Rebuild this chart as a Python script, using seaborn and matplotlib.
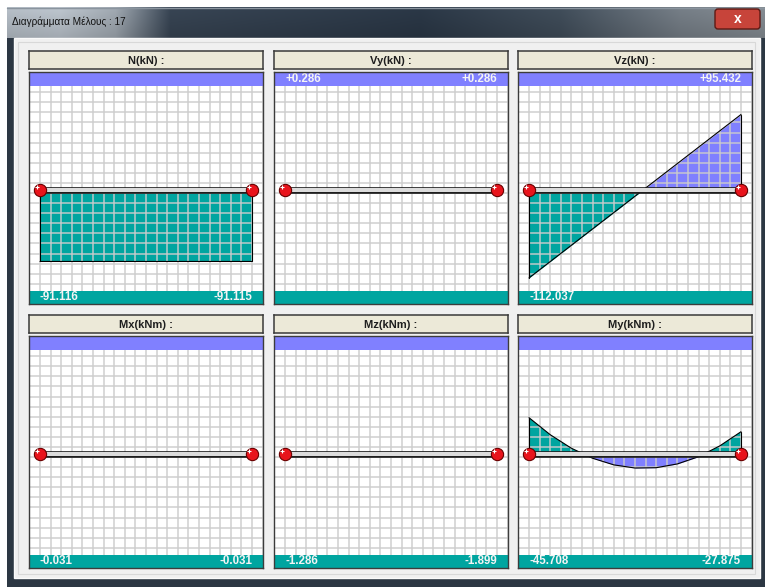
import numpy as np
import matplotlib
matplotlib.use("Agg")
import matplotlib.pyplot as plt
from matplotlib.patches import Rectangle, FancyBboxPatch
from matplotlib.transforms import ScaledTranslation, blended_transform_factory
import seaborn as sns

# ---- member diagram values (stations normalised along the member) ----
window_title = "Διαγράμματα Μέλους : 17"
titles = ["N(kN) :", "Vy(kN) :", "Vz(kN) :", "Mx(kNm) :", "Mz(kNm) :", "My(kNm) :"]
end_stations = [0.0, 1.0]
n_vals = [-91.116, -91.115]
vy_vals = [0.286, 0.286]
vz_vals = [-112.037, 95.432]
mx_vals = [-0.031, -0.031]
mz_vals = [-1.286, -1.899]
my_stations = [0.0, 0.1, 0.2, 0.3, 0.4, 0.5, 0.6, 0.7, 0.8, 0.9, 1.0]
my_vals = [-45.708, -24.1, -6.9, 5.8, 14.2, 18.2, 17.8, 13.0, 3.8, -9.9, -27.875]

panels = [
    (titles[0], end_stations, n_vals, False),
    (titles[1], end_stations, vy_vals, False),
    (titles[2], end_stations, vz_vals, False),
    (titles[3], end_stations, mx_vals, True),
    (titles[4], end_stations, mz_vals, True),
    (titles[5], my_stations, my_vals, True),
]

TEAL = "#00A5A0"
PURPLE = "#8080FF"
BEIGE = "#ECE9D8"

sns.set_style("white")
plt.rcParams["font.family"] = ["Liberation Sans", "DejaVu Sans"]

W, H = 765, 587
fig = plt.figure(figsize=(W / 100, H / 100), dpi=100)
fig.patch.set_facecolor("white")


def px_axes(x, y, w, h, **kw):
    return fig.add_axes([x / W, 1 - (y + h) / H, w / W, h / H], **kw)


# ---- window chrome ----
bg = px_axes(0, 0, W, H, zorder=-10)
bg.set_xlim(0, W)
bg.set_ylim(H, 0)
bg.axis("off")
bg.add_patch(Rectangle((7, 7), W - 7, H - 7, facecolor="#2C3743", edgecolor="none"))

stops_x = [7, 60, 115, 170, 420, 560, 680, 765]
stops_c = np.array([[170, 178, 186], [176, 184, 192], [150, 158, 166], [52, 64, 78],
                    [40, 52, 66], [60, 72, 84], [110, 118, 126], [125, 132, 138]]) / 255
xs = np.arange(7, W)
grad = np.stack([np.interp(xs, stops_x, stops_c[:, i]) for i in range(3)], axis=-1)
vshade = np.linspace(1.08, 0.92, 31)[:, None, None]
grad_img = np.clip(grad[None, :, :] * vshade, 0, 1)
bg.imshow(grad_img, extent=(7, W, 38, 7), aspect="auto", zorder=1)
bg.plot([7, W], [7.5, 7.5], color="#8A949E", lw=1, zorder=2)

bg.add_patch(Rectangle((14, 38), 746, 540, facecolor="#F0F0F0", edgecolor="#FAFAFA",
                       lw=1, zorder=2))
bg.add_patch(Rectangle((18, 42), 737, 532, facecolor="none", edgecolor="#D8D8D8",
                       lw=0.8, zorder=2))
bg.text(12, 22, window_title, fontsize=7.2, color="#111111", va="center", ha="left", zorder=3)
bg.add_patch(FancyBboxPatch((715, 9), 45, 20, boxstyle="round,pad=0,rounding_size=3",
                            facecolor="#C7443A", edgecolor="#5E1A14", lw=1, zorder=3))
bg.text(737.5, 19, "x", fontsize=10, fontweight="bold", color="white",
        ha="center", va="center", zorder=4)

# ---- diagram panels ----
col_x = [29, 274, 518]
hdr_y = [51, 315]
plot_y = [72, 336]
col_w, hdr_h, plot_h = 234, 18, 232
inset = 11
beam_px = col_w - 2 * inset
kn_per_px = 1.2
half = plot_h / 2 * kn_per_px
cell_px = 10.67
band_px = 13.5

for i, (title, st, vals, moment) in enumerate(panels):
    r, c = divmod(i, 3)
    x0 = col_x[c]

    # header strip
    hax = px_axes(x0, hdr_y[r], col_w, hdr_h)
    hax.set_facecolor(BEIGE)
    hax.set_xticks([])
    hax.set_yticks([])
    for s in hax.spines.values():
        s.set_color("#3A3A3A")
        s.set_linewidth(1.1)
    hax.text(0.5, 0.47, title, transform=hax.transAxes, ha="center", va="center",
             fontsize=8, fontweight="bold", color="#1E1E1E")

    # diagram area
    ax = px_axes(x0, plot_y[r], col_w, plot_h)
    ax.set_facecolor("white")
    ax.set_xlim(-inset / beam_px, 1 + inset / beam_px)
    if moment:
        ax.set_ylim(half, -half)
        sgn = 1
    else:
        ax.set_ylim(-half, half)
        sgn = -1

    x = np.asarray(st, dtype=float)
    v = np.asarray(vals, dtype=float)
    ax.fill_between(x, v, 0, where=v <= 0, interpolate=True, color=TEAL, lw=0, zorder=1)
    ax.fill_between(x, v, 0, where=v >= 0, interpolate=True, color=PURPLE, lw=0, zorder=1)
    sns.lineplot(x=x, y=v, ax=ax, color="black", lw=0.8, sort=False, legend=False, zorder=3)
    ax.plot([x[0], x[0]], [0, v[0]], color="black", lw=0.8, zorder=3)
    ax.plot([x[-1], x[-1]], [0, v[-1]], color="black", lw=0.8, zorder=3)
    ax.set_xlabel("")
    ax.set_ylabel("")

    # grid
    ax.set_xticks(np.arange(-1, 22) * 0.05)
    ax.set_yticks(sgn * (np.arange(-12, 12) + 1 / 3) * cell_px * kn_per_px)
    ax.set_axisbelow(False)
    ax.grid(True, color="#CCCCCC", lw=1.2, alpha=0.85)
    ax.tick_params(length=0, labelbottom=False, labelleft=False)
    ax.set_xlim(-inset / beam_px, 1 + inset / beam_px)
    for s in ax.spines.values():
        s.set_color("#3C3C3C")
        s.set_linewidth(1.0)
        s.set_zorder(8)

    # member line and end nodes
    ax.plot([x[0], x[-1]], [0, 0], color="#1C1C1C", lw=4.8, solid_capstyle="butt", zorder=5)
    ax.plot([x[0], x[-1]], [0, 0], color="#DCDCDC", lw=2.9, solid_capstyle="butt", zorder=5.1)
    ax.scatter([x[0], x[-1]], [0, 0], s=78, facecolor="#E8141C", edgecolor="#6A0000",
               lw=0.8, zorder=6)
    hl = ax.transData + ScaledTranslation(-2 / 72, 2 / 72, fig.dpi_scale_trans)
    ax.scatter([x[0], x[-1]], [0, 0], s=9, marker="+", color="white", lw=0.8,
               transform=hl, zorder=7)

    # value bands
    bh = band_px / plot_h
    ax.add_patch(Rectangle((0, 1 - bh), 1, bh, transform=ax.transAxes,
                           facecolor=PURPLE, edgecolor="none", zorder=4))
    ax.add_patch(Rectangle((0, 0), 1, bh, transform=ax.transAxes,
                           facecolor=TEAL, edgecolor="none", zorder=4))
    tr = blended_transform_factory(ax.transData, ax.transAxes)
    for xv, val, ha in [(x[0], v[0], "left"), (x[-1], v[-1], "right")]:
        if abs(val) < 1e-9:
            continue
        yb = 1 - bh / 2 if val > 0 else bh / 2
        ax.text(xv, yb, f"{val:+.3f}", transform=tr, ha=ha, va="center",
                fontsize=8.3, fontweight="bold", color="#F4F4F4", zorder=7)

fig.savefig("out.png", dpi=100)
